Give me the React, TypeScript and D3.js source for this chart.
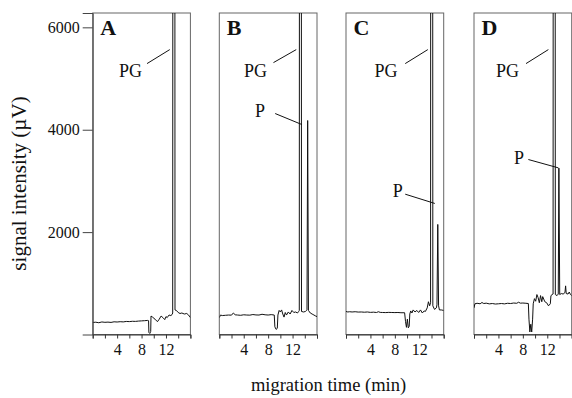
import { useEffect, useRef } from 'react';
import * as d3 from 'd3';

// Electropherograms A-D: [migration time (min), signal (µV)]
const traceA: [number, number][] = [
    [0, 235], [0.5, 240], [1, 230], [1.5, 245], [2, 238], [2.5, 242], [3, 236], [3.5, 248],
    [4, 244], [4.5, 250], [5, 246], [5.5, 255], [6, 252], [6.5, 258], [7, 256], [7.5, 262],
    [8, 266], [8.5, 270], [9.0, 275], [9.15, 270], [9.2, 40], [9.35, 20], [9.5, 60], [9.55, 360],
    [9.8, 340], [10.2, 300], [10.6, 250], [10.9, 300], [11.2, 360], [11.5, 330], [11.8, 290],
    [12.0, 350], [12.2, 330], [12.5, 380], [12.8, 370], [13.0, 390], [13.1, 420],
    [13.16, 20000], [13.42, 20000], [13.48, 480], [13.7, 470], [14.0, 430], [14.3, 410],
    [14.6, 420], [15.0, 400], [15.4, 410], [15.7, 380], [16.0, 330]
];

const traceB: [number, number][] = [
    [0, 330], [0.2, 380], [0.5, 370], [1, 375], [1.5, 380], [2, 378], [2.3, 420], [2.6, 385],
    [3, 380], [3.5, 375], [4, 385], [4.5, 380], [5, 378], [5.5, 390], [6, 382], [6.5, 380],
    [7, 395], [7.5, 385], [8, 380], [8.5, 388], [9.0, 380], [9.1, 150], [9.3, 100], [9.5, 120],
    [9.6, 380], [9.8, 470], [10.0, 440], [10.2, 480], [10.4, 400], [10.6, 340], [10.8, 430],
    [11.0, 380], [11.3, 440], [11.6, 400], [11.9, 470], [12.2, 430], [12.5, 440], [12.8, 420],
    [13.0, 450], [13.1, 470], [13.16, 20000], [13.4, 20000], [13.46, 450], [13.8, 440],
    [14.1, 450], [14.3, 470], [14.36, 480], [14.47, 4180], [14.6, 470], [14.9, 420],
    [15.2, 400], [15.5, 380], [15.8, 360], [16, 350]
];

const traceC: [number, number][] = [
    [0, 450], [0.3, 440], [0.6, 445], [1, 440], [1.5, 445], [2, 438], [2.5, 440], [3, 435],
    [3.5, 440], [4, 432], [4.5, 436], [5, 430], [5.3, 445], [5.6, 432], [6, 430], [6.5, 428],
    [7, 432], [7.5, 430], [8, 428], [8.5, 430], [9, 425], [9.6, 425], [9.75, 250], [9.9, 140],
    [10.05, 300], [10.2, 130], [10.35, 160], [10.45, 400], [10.6, 460], [10.8, 420], [11.0, 480],
    [11.3, 440], [11.6, 470], [11.9, 430], [12.2, 480], [12.5, 420], [12.8, 460], [13.0, 450],
    [13.3, 520], [13.5, 640], [13.7, 560], [13.85, 620], [13.9, 20000], [14.16, 20000],
    [14.22, 560], [14.5, 490], [14.8, 520], [14.9, 580], [15.03, 2150], [15.16, 560],
    [15.3, 480], [15.6, 480], [16, 470]
];

const traceD: [number, number][] = [
    [0, 520], [0.15, 600], [0.5, 610], [1, 600], [1.3, 625], [1.6, 605], [2, 612], [2.5, 598],
    [3, 605], [3.5, 595], [4, 600], [4.5, 605], [5, 598], [5.5, 610], [6, 605], [6.5, 615],
    [7, 610], [7.3, 630], [7.6, 612], [8, 615], [8.5, 610], [8.9, 605], [9.0, 300], [9.15, 50],
    [9.3, 200], [9.45, 50], [9.6, 300], [9.7, 600], [9.9, 700], [10.1, 650], [10.3, 780],
    [10.5, 720], [10.7, 620], [10.9, 760], [11.1, 640], [11.25, 740], [11.6, 640], [11.9, 620],
    [12.2, 560], [12.5, 600], [12.6, 760], [12.8, 780], [12.95, 790], [13.0, 20000],
    [13.26, 20000], [13.32, 780], [13.6, 760], [13.8, 790], [13.9, 3250], [14.04, 780],
    [14.3, 800], [14.6, 790], [14.9, 820], [15.0, 950], [15.1, 800], [15.4, 790], [15.6, 830],
    [15.8, 780], [16, 760]
];

const panelNames = ['A', 'B', 'C', 'D'];
const traces = [traceA, traceB, traceC, traceD];

// label annotations: text anchor point and leader line, in data units
const peakLabels = [
    [{ text: 'PG', tx: 4.3, ty: 5024, x1: 8.9, y1: 5292, x2: 12.62, y2: 5565 }],
    [
        { text: 'PG', tx: 4.05, ty: 5024, x1: 8.87, y1: 5311, x2: 12.6, y2: 5565 },
        { text: 'P', tx: 5.86, ty: 4250, x1: 9.15, y1: 4316, x2: 13.53, y2: 4101 }
    ],
    [
        { text: 'PG', tx: 4.65, ty: 5024, x1: 9.7, y1: 5292, x2: 13.4, y2: 5565 },
        { text: 'P', tx: 7.64, ty: 2689, x1: 9.7, y1: 2741, x2: 14.54, y2: 2560 }
    ],
    [
        { text: 'PG', tx: 3.6, ty: 5024, x1: 8.52, y1: 5292, x2: 12.18, y2: 5565 },
        { text: 'P', tx: 6.56, ty: 3340, x1: 8.9, y1: 3418, x2: 13.82, y2: 3255 }
    ]
];

const xTicks = [0, 2, 4, 6, 8, 10, 12, 14, 16];
const xTickLabels = [4, 8, 12];
const yTicks = [2000, 4000, 6000];

const width = 572;
const height = 398;
const panelLeft = [92.7, 219.3, 346, 474];
const panelWidth = 97.7;
const top = 13;
const bottom = 334.5;
const font = 'Liberation Serif, serif';

export default function App() {
    const ref = useRef<SVGSVGElement>(null);

    useEffect(() => {
        const svg = d3.select(ref.current);
        svg.selectAll('*').remove();

        const yScale = d3.scaleLinear().domain([0, 6280]).range([bottom, top]);

        panelNames.forEach((name, i) => {
            const x0 = panelLeft[i];
            const xScale = d3.scaleLinear().domain([0, 16]).range([x0, x0 + panelWidth]);
            const g = svg.append('g');

            g.append('clipPath')
                .attr('id', `clip-${name}`)
                .append('rect')
                .attr('x', x0)
                .attr('y', top)
                .attr('width', panelWidth)
                .attr('height', bottom - top);

            // frame
            g.append('rect')
                .attr('x', x0)
                .attr('y', top)
                .attr('width', panelWidth)
                .attr('height', bottom - top)
                .attr('fill', 'none')
                .attr('stroke', '#666')
                .attr('stroke-width', 1);

            const line = d3
                .line<[number, number]>()
                .x((d) => xScale(d[0]))
                .y((d) => yScale(d[1]));

            g.append('path')
                .datum(traces[i])
                .attr('clip-path', `url(#clip-${name})`)
                .attr('d', line)
                .attr('fill', 'none')
                .attr('stroke', '#111')
                .attr('stroke-width', 1)
                .attr('stroke-linejoin', 'round');

            // x axis
            g.append('g')
                .attr('transform', `translate(0,${bottom})`)
                .call(
                    d3
                        .axisBottom(xScale)
                        .tickValues(xTicks)
                        .tickSize(4)
                        .tickPadding(5)
                        .tickFormat((d) => (xTickLabels.includes(d as number) ? String(d) : ''))
                )
                .attr('font-family', font)
                .attr('font-size', 16)
                .call((a) => a.select('.domain').attr('stroke', '#333'))
                .call((a) => a.selectAll('.tick line').attr('stroke', '#333'))
                .call((a) => a.selectAll('text').attr('fill', '#111'));

            if (i === 0) {
                g.append('g')
                    .attr('transform', `translate(${x0},0)`)
                    .call(
                        d3
                            .axisLeft(yScale)
                            .tickValues(yTicks)
                            .tickSize(10)
                            .tickPadding(3)
                            .tickFormat(d3.format('d'))
                    )
                    .attr('font-family', font)
                    .attr('font-size', 16)
                    .call((a) => a.select('.domain').attr('stroke', '#444'))
                    .call((a) => a.selectAll('.tick line').attr('stroke', '#444'))
                    .call((a) => a.selectAll('text').attr('fill', '#111'));
            }

            // panel letter
            g.append('text')
                .attr('x', x0 + 7.5)
                .attr('y', 35)
                .attr('font-family', font)
                .attr('font-weight', 'bold')
                .attr('font-size', 22)
                .attr('fill', '#111')
                .text(name);

            peakLabels[i].forEach((p) => {
                g.append('text')
                    .attr('x', xScale(p.tx))
                    .attr('y', yScale(p.ty))
                    .attr('font-family', font)
                    .attr('font-size', 18)
                    .attr('fill', '#111')
                    .text(p.text);
                g.append('line')
                    .attr('x1', xScale(p.x1))
                    .attr('y1', yScale(p.y1))
                    .attr('x2', xScale(p.x2))
                    .attr('y2', yScale(p.y2))
                    .attr('stroke', '#111')
                    .attr('stroke-width', 1);
            });
        });

        svg.append('text')
            .attr('transform', `translate(26,${183.5}) rotate(-90)`)
            .attr('text-anchor', 'middle')
            .attr('font-family', font)
            .attr('font-size', 21)
            .attr('fill', '#111')
            .text('signal intensity (\u00b5V)');

        svg.append('text')
            .attr('x', 328.5)
            .attr('y', 391)
            .attr('text-anchor', 'middle')
            .attr('font-family', font)
            .attr('font-size', 18.5)
            .attr('fill', '#111')
            .text('migration time (min)');
    }, []);

    return (
        <svg
            ref={ref}
            width={width}
            height={height}
            style={{ position: 'absolute', left: 0, top: 0, background: '#fff' }}
        />
    );
}
